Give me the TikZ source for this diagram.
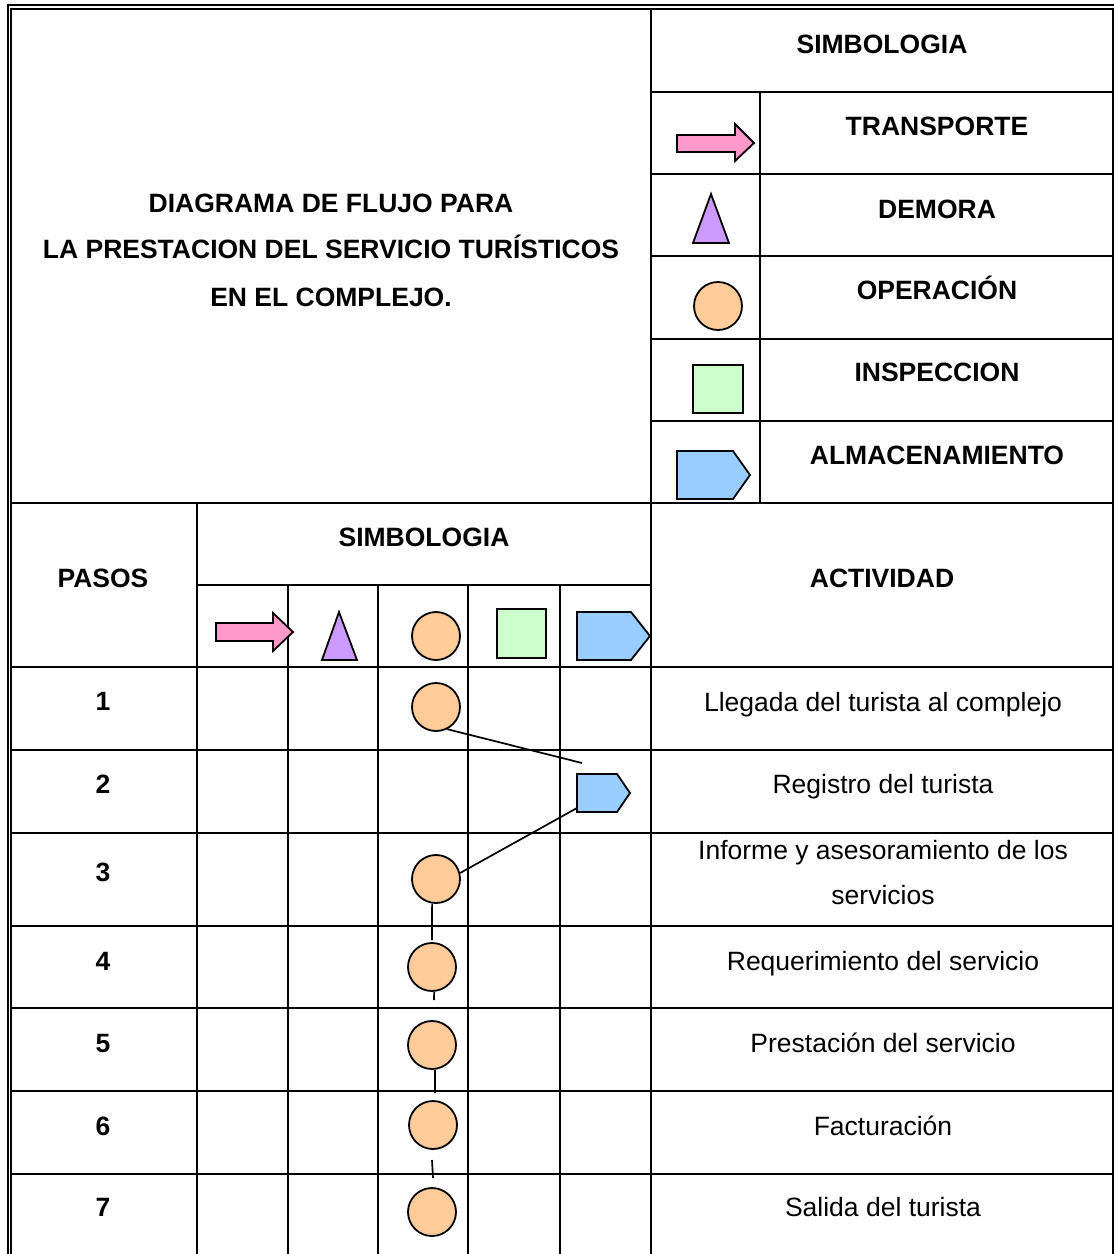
\documentclass[tikz,border=0pt]{standalone}
\usepackage{fontspec}
\setmainfont{Liberation Sans}
\definecolor{trfill}{HTML}{FF99CC}
\definecolor{defill}{HTML}{CC99FF}
\definecolor{opfill}{HTML}{FFCC99}
\definecolor{infill}{HTML}{CCFFCC}
\definecolor{alfill}{HTML}{99CCFF}
\begin{document}
\begin{tikzpicture}[x=1pt,y=-1pt,
  gridline/.style={line width=2.1pt},
  frameline/.style={line width=2pt},
  shp/.style={draw=black,line width=1.8pt},
  hd/.style={font=\fontsize{26.5}{32}\selectfont\bfseries, anchor=base, inner sep=0pt},
  tx/.style={font=\fontsize{26.5}{32}\selectfont, anchor=base, inner sep=0pt},
  opc/.style={circle, shp, fill=opfill, minimum size=48pt, inner sep=0pt},
  conn/.style={line width=1.7pt}
]
\useasboundingbox (0,0) rectangle (1114,1254);
% ---------- frame ----------
\draw[frameline] (7.5,1254) -- (7.5,4.5) -- (1114,4.5);
\draw[frameline] (11.3,1254) -- (11.3,9.2) -- (1113,9.2) -- (1113,1254);
\draw[gridline] (651,9) -- (651,1254);
% legend grid
\draw[gridline] (760,92) -- (760,503);
\foreach \yy in {92,174,256,339,421}
  \draw[gridline] (651,\yy) -- (1113,\yy);
\draw[gridline] (11,503) -- (1113,503);
% lower table
\draw[gridline] (197,503) -- (197,1254);
\draw[gridline] (197,585) -- (651,585);
\foreach \xx in {288,378,468,560}
  \draw[gridline] (\xx,585) -- (\xx,1254);
\foreach \yy in {667,750,833,926,1008,1091,1174}
  \draw[gridline] (11,\yy) -- (1113,\yy);

% ---------- title ----------
\node[hd] (t1) at (331,212) {DIAGRAMA DE FLUJO PARA};
\node[hd] (t2) at (331,258) {LA PRESTACION DEL SERVICIO TURÍSTICOS};
\node[hd] (t3) at (331,306) {EN EL COMPLEJO.};

% ---------- legend ----------
\node[hd] (lsim) at (882,53) {SIMBOLOGIA};
\node[hd] (ltr) at (937,135) {TRANSPORTE};
\node[hd] (lde) at (937,218) {DEMORA};
\node[hd] (lop) at (937,299) {OPERACIÓN};
\node[hd] (lin) at (937,381) {INSPECCION};
\node[hd] (lal) at (937,464) {ALMACENAMIENTO};

\draw[shp, fill=trfill] (677,135) -- (735,135) -- (735,124) -- (754,143) -- (735,161) -- (735,152) -- (677,152) -- cycle;
\draw[shp, fill=defill] (711,194) -- (729,243) -- (693,243) -- cycle;
\node[opc] (lopc) at (718,306) {};
\draw[shp, fill=infill] (693,365) rectangle (743,413);
\draw[shp, fill=alfill] (677,451) -- (733,451) -- (750,475) -- (733,499) -- (677,499) -- cycle;

% ---------- table header ----------
\node[hd] (hpasos) at (103,587) {PASOS};
\node[hd] (hsim) at (424,546) {SIMBOLOGIA};
\node[hd] (hact) at (882,587) {ACTIVIDAD};

\draw[shp, fill=trfill] (216,623) -- (273,623) -- (273,613) -- (293,632) -- (273,651) -- (273,641) -- (216,641) -- cycle;
\draw[shp, fill=defill] (339,612) -- (357,660) -- (322,660) -- cycle;
\node[opc] (hopc) at (436,636) {};
\draw[shp, fill=infill] (497,609) rectangle (546,658);
\draw[shp, fill=alfill] (577,612) -- (631,612) -- (650,636) -- (631,660) -- (577,660) -- cycle;

% ---------- rows ----------
\node[hd] (n1) at (103,710) {1};
\node[hd] (n2) at (103,793) {2};
\node[hd] (n3) at (103,881) {3};
\node[hd] (n4) at (103,970) {4};
\node[hd] (n5) at (103,1052) {5};
\node[hd] (n6) at (103,1135) {6};
\node[hd] (n7) at (103,1216) {7};

\node[tx] (a1) at (883,711) {Llegada del turista al complejo};
\node[tx] (a2) at (883,793) {Registro del turista};
\node[tx] (a3a) at (883,859) {Informe y asesoramiento de los};
\node[tx] (a3b) at (883,904) {servicios};
\node[tx] (a4) at (883,970) {Requerimiento del servicio};
\node[tx] (a5) at (883,1052) {Prestación del servicio};
\node[tx] (a6) at (883,1135) {Facturación};
\node[tx] (a7) at (883,1216) {Salida del turista};

% ---------- flow ----------
\node[opc] (c1) at (436,707) {};
\draw[shp, fill=alfill] (577,774) -- (617,774) -- (630,793) -- (617,812) -- (577,812) -- cycle;
\coordinate (p2sw) at (577,808);
\node[opc] (c3) at (436,879) {};
\node[opc] (c4) at (432,967) {};
\node[opc] (c5) at (432,1045) {};
\node[opc] (c6) at (433,1125) {};
\node[opc] (c7) at (432,1212) {};

\coordinate (e1) at (582,763);
\coordinate (e3) at (432,940);
\coordinate (e4) at (434,1000);
\coordinate (e5) at (435,1093);
\coordinate (s6a) at (432,1160);
\coordinate (s6b) at (433,1178);

\draw[conn] (c1.-63) -- (e1);
\draw[conn] (c3.14) -- (p2sw);
\draw[conn] (c3.-99) -- (e3);
\draw[conn] (c4.-85) -- (e4);
\draw[conn] (c5.-83) -- (e5);
\draw[conn] (s6a) -- (s6b);
\end{tikzpicture}
\end{document}
